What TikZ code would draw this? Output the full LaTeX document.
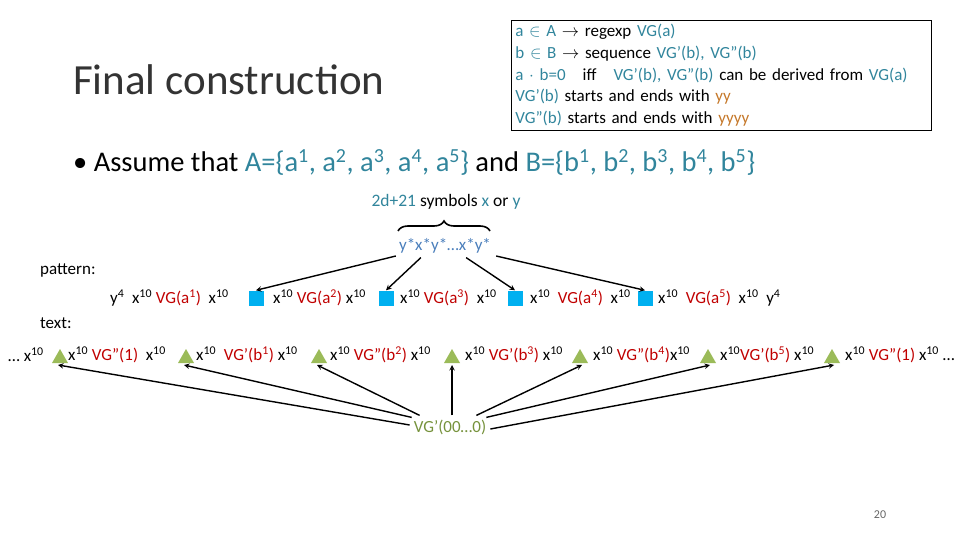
\documentclass[tikz,border=0pt]{standalone}
\usepackage{fontspec}
\setmainfont{Carlito}
\usetikzlibrary{decorations.pathreplacing,calc}
\definecolor{vred}{HTML}{C00000}
\definecolor{teal2}{HTML}{31859C}
\definecolor{ybrown}{HTML}{C5782A}
\definecolor{sqblue}{HTML}{00B0F0}
\definecolor{trig}{HTML}{9BBB59}
\definecolor{olive}{HTML}{76923C}
\definecolor{pblue}{HTML}{4A7EBB}
\newcommand{\sx}{x\textsuperscript{10}}
\newcommand{\R}[1]{\textcolor{vred}{#1}}
\newcommand{\T}[1]{\textcolor{teal2}{#1}}
\begin{document}
\begin{tikzpicture}[x=1pt,y=1pt,
  txt/.style={inner sep=0pt,anchor=west,font=\fontsize{17}{19}\selectfont},
  sq/.style={fill=sqblue,minimum size=15pt,inner sep=0pt},
  arr/.style={->,>=stealth,line width=1.4pt}]
\useasboundingbox (0,0) rectangle (960,-540);
\node[anchor=west,inner sep=0pt,font=\fontsize{43}{45}\selectfont,text=black!80] (title) at (73,-80) {Final construction};
\node[draw,line width=0.8pt,anchor=north west,inner sep=4pt,text width=412pt,align=left,font=\fontsize{17}{21.7}\selectfont] (box) at (511,-20)
{\T{a} \T{$\in$ A} $\rightarrow$ regexp \T{VG(a)}\\
\T{b} \T{$\in$ B} $\rightarrow$ sequence \T{VG'(b), VG''(b)}\\
\T{a $\cdot$ b=0}\quad iff\quad \T{VG'(b), VG''(b)} can be derived from \T{VG(a)}\\
\T{VG'(b)} starts and ends with \textcolor{ybrown}{yy}\\
\T{VG''(b)} starts and ends with \textcolor{ybrown}{yyyy}};
\node[anchor=west,inner sep=0pt,font=\fontsize{28.5}{30}\selectfont] (assume) at (73,-162) {\textbullet\ Assume that \T{A=\{a\textsuperscript{1}, a\textsuperscript{2}, a\textsuperscript{3}, a\textsuperscript{4}, a\textsuperscript{5}\}} and \T{B=\{b\textsuperscript{1}, b\textsuperscript{2}, b\textsuperscript{3}, b\textsuperscript{4}, b\textsuperscript{5}\}}};
\node[inner sep=0pt,font=\fontsize{17.5}{19}\selectfont] (sym) at (446,-202) {\T{2d+21} symbols \T{x} or \T{y}};
\draw[line width=1.6pt,decoration={brace,amplitude=10pt},decorate] (398,-231) -- (490,-231);
\node[inner sep=0pt,font=\fontsize{17}{19}\selectfont,text=pblue] (pat) at (445,-246) {y*x*y*…x*y*};
\node[txt] (pl) at (40,-270) {pattern:};
\node[txt] (tl) at (40,-323) {text:};
% pattern row
\node[txt] (p1) at (110,-298) {y\textsuperscript{4}\ \ \sx\ \R{VG(a\textsuperscript{1})}\ \ \sx};
\node[sq] (s1) at (256,-298) {};
\node[txt] (p2) at (273,-298) {\sx\ \R{VG(a\textsuperscript{2})} \sx};
\node[sq] (s2) at (386,-298) {};
\node[txt] (p3) at (400,-298) {\sx\ \R{VG(a\textsuperscript{3})}\ \ \sx};
\node[sq] (s3) at (515,-298) {};
\node[txt] (p4) at (530,-298) {\sx\ \ \R{VG(a\textsuperscript{4})}\ \ \sx};
\node[sq] (s4) at (645,-298) {};
\node[txt] (p5) at (658,-298) {\sx\ \ \R{VG(a\textsuperscript{5})}\ \ \sx\ \ y\textsuperscript{4}};
\draw[arr] ($(pat.west)+(-3,-10)$) -- (s1.north);
\draw[arr] ($(pat.south west)+(22,-4)$) -- (s2.north);
\draw[arr] ($(pat.south east)+(-25,-4)$) -- (s3.north);
\draw[arr] ($(pat.east)+(5,-10)$) -- (s4.north);
% text row
\node[txt] (t0) at (8,-355) {… \sx};
\node[txt] (t1) at (68,-355) {\sx\ \R{VG''(1)}\ \ \sx};
\node[txt] (t2) at (196,-355) {\sx\ \ \R{VG'(b\textsuperscript{1})} \sx};
\node[txt] (t3) at (330,-355) {\sx\ \R{VG''(b\textsuperscript{2})} \sx};
\node[txt] (t4) at (465,-355) {\sx\ \R{VG'(b\textsuperscript{3})}\ \sx};
\node[txt] (t5) at (593,-355) {\sx\ \R{VG''(b\textsuperscript{4})}\sx};
\node[txt] (t6) at (720,-355) {\sx\R{VG'(b\textsuperscript{5})}\ \sx};
\node[txt] (t7) at (845,-355) {\sx\ \R{VG''(1)}\ \sx\ …};
\foreach \i/\x in {1/60,2/186,3/319,4/452,5/580,6/708,7/832}{
  \path[fill=trig] (\x-8,-363) -- (\x+8,-363) -- (\x,-349) -- cycle;
  \coordinate (g\i) at (\x-2,-365);
}
\node[inner sep=2pt,font=\fontsize{17}{19}\selectfont,text=olive] (vg) at (450,-427) {VG'(00…0)};
\draw[arr] ($(vg.west)+(-2,2)$) -- (g1);
\draw[arr] ($(vg.north west)+(0,0)$) -- (g2);
\draw[arr] ($(vg.north west)+(8,2)$) -- (g3);
\draw[arr] ($(vg.north)+(2,2)$) -- ($(g4)+(2,0)$);
\draw[arr] ($(vg.north east)+(-12,2)$) -- ($(g5)+(4,0)$);
\draw[arr] ($(vg.north east)+(-2,0)$) -- ($(g6)+(4,0)$);
\draw[arr] ($(vg.east)+(2,-2)$) -- ($(g7)+(4,0)$);
\node[font=\fontsize{12}{13}\selectfont,text=black!60] (pg) at (880,-515) {20};
\end{tikzpicture}
\end{document}
